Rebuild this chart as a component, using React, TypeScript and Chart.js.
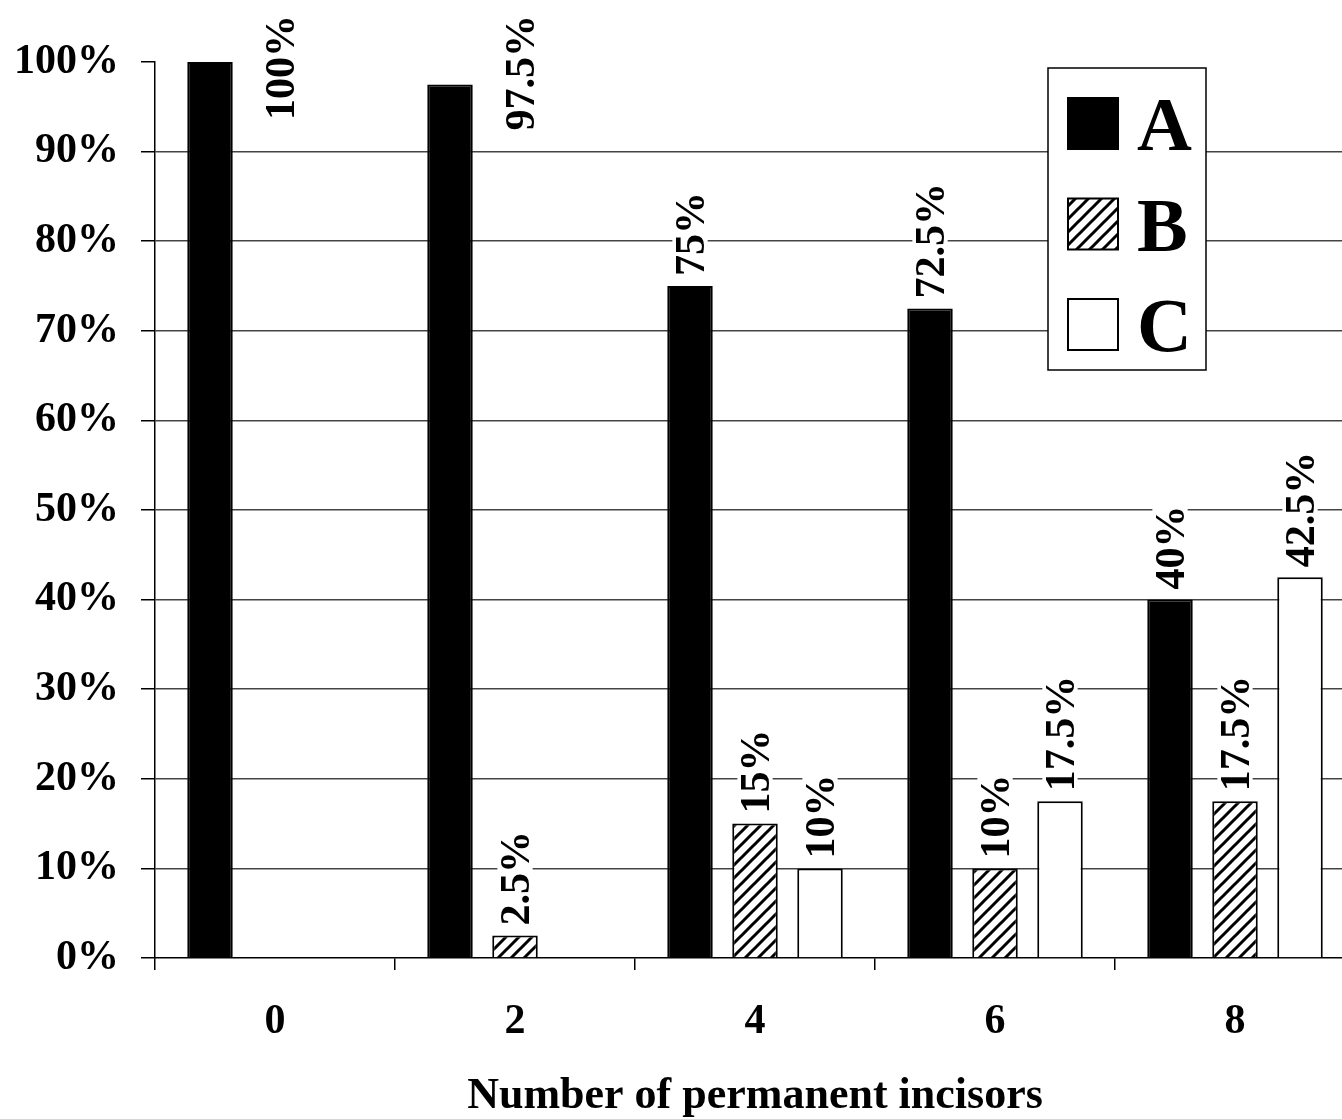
import React, { useEffect, useRef } from 'react';
import { Chart, registerables } from 'chart.js';

Chart.register(...registerables);

const categories = ['0', '2', '4', '6', '8'];
const seriesNames = ['A', 'B', 'C'];
const seriesA = [100, 97.5, 75, 72.5, 40];
const seriesB = [null, 2.5, 15, 10, 17.5];
const seriesC = [null, null, 10, 17.5, 42.5];
const yTickValues = [0, 10, 20, 30, 40, 50, 60, 70, 80, 90, 100];
const xTitle = 'Number of permanent incisors';

const FONT = '"Liberation Serif", "Times New Roman", serif';

function makeHatch(): CanvasPattern | string {
  const s = 13;
  const c = document.createElement('canvas');
  c.width = s;
  c.height = s;
  const g = c.getContext('2d');
  if (!g) return '#888';
  g.fillStyle = '#fff';
  g.fillRect(0, 0, s, s);
  g.strokeStyle = '#000';
  g.lineWidth = 3;
  g.beginPath();
  g.moveTo(-2, s + 2);
  g.lineTo(s + 2, -2);
  g.moveTo(-3, 3);
  g.lineTo(3, -3);
  g.moveTo(s - 3, s + 3);
  g.lineTo(s + 3, s - 3);
  g.stroke();
  return g.createPattern(c, 'repeat') || '#888';
}

const valueLabelPlugin = {
  id: 'valueLabels',
  afterDatasetsDraw(chart: any) {
    const ctx = chart.ctx;
    const size = 42;
    ctx.save();
    ctx.font = `bold ${size}px ${FONT}`;
    ctx.textAlign = 'left';
    ctx.textBaseline = 'alphabetic';
    chart.data.datasets.forEach((ds: any, di: number) => {
      const meta = chart.getDatasetMeta(di);
      meta.data.forEach((bar: any, i: number) => {
        const v = ds.data[i];
        if (v == null) return;
        const text = `${v}%`;
        const w = ctx.measureText(text).width;
        let cx = bar.x;
        let bottom = bar.y - 10;
        if (bottom - w < 12) {
          cx = bar.x + 70;
          bottom = 15 + w;
        }
        ctx.save();
        ctx.translate(cx, bottom);
        ctx.rotate(-Math.PI / 2);
        ctx.fillStyle = '#fff';
        ctx.fillRect(-3, -size * 0.42, w + 6, size * 0.84);
        ctx.fillStyle = '#000';
        ctx.fillText(text, 0, size * 0.34);
        ctx.restore();
      });
    });
    ctx.restore();
  },
};

const legendPlugin = {
  id: 'boxLegend',
  afterDraw(chart: any) {
    const ctx = chart.ctx;
    const left = 1048;
    const top = 68;
    const width = 158;
    const height = 302;
    ctx.save();
    ctx.fillStyle = '#fff';
    ctx.fillRect(left, top, width, height);
    ctx.strokeStyle = '#000';
    ctx.lineWidth = 1.5;
    ctx.strokeRect(left, top, width, height);
    ctx.font = `bold 76px ${FONT}`;
    ctx.textAlign = 'left';
    ctx.textBaseline = 'alphabetic';
    chart.data.datasets.forEach((ds: any, i: number) => {
      const sy = top + 30 + i * 100.5;
      ctx.fillStyle = ds.backgroundColor;
      ctx.fillRect(1068, sy, 50, 51);
      ctx.strokeStyle = '#000';
      ctx.lineWidth = 2;
      ctx.strokeRect(1068, sy, 50, 51);
      ctx.fillStyle = '#000';
      ctx.fillText(seriesNames[i], 1137, sy + 52);
    });
    ctx.restore();
  },
};

export default function App() {
  const ref = useRef<HTMLCanvasElement | null>(null);

  useEffect(() => {
    if (!ref.current) return;
    const hatch = makeHatch();
    const chart = new Chart(ref.current, {
      type: 'bar',
      data: {
        labels: categories,
        datasets: [
          {
            label: seriesNames[0],
            data: seriesA,
            backgroundColor: '#000',
            borderColor: '#000',
            borderWidth: 2,
          },
          {
            label: seriesNames[1],
            data: seriesB as any,
            backgroundColor: hatch as any,
            borderColor: '#000',
            borderWidth: 2,
          },
          {
            label: seriesNames[2],
            data: seriesC as any,
            backgroundColor: '#fff',
            borderColor: '#000',
            borderWidth: 2,
          },
        ],
      },
      options: {
        animation: false,
        responsive: false,
        maintainAspectRatio: false,
        devicePixelRatio: 1,
        layout: { padding: { top: 62, right: 5, left: 0, bottom: 0 } },
        datasets: {
          bar: {
            categoryPercentage: 0.8125,
            barPercentage: 0.7,
            borderSkipped: 'bottom',
          },
        },
        plugins: {
          legend: { display: false },
          tooltip: { enabled: false },
        },
        scales: {
          x: {
            grid: {
              offset: true,
              drawOnChartArea: false,
              drawTicks: true,
              tickLength: 12,
              color: '#000',
              lineWidth: 1.5,
            },
            border: { display: true, color: '#000', width: 1.5 },
            ticks: {
              color: '#000',
              font: { family: FONT, size: 42, weight: 'bold' },
              padding: 27,
              maxRotation: 0,
            },
            title: {
              display: true,
              text: xTitle,
              color: '#000',
              font: { family: FONT, size: 44, weight: 'bold', lineHeight: 1.0 },
              padding: { top: 0, bottom: 0 },
            },
            afterFit(scale: any) {
              scale.height = 161;
            },
          },
          y: {
            min: 0,
            max: 100,
            afterBuildTicks(scale: any) {
              scale.ticks = yTickValues.map((v) => ({ value: v }));
            },
            grid: {
              color: (c: any) => (c.tick && (c.tick.value === 100 || c.tick.value === 0) ? 'rgba(0,0,0,0)' : '#444'),
              tickColor: '#000',
              lineWidth: 1.5,
              tickLength: 14,
            },
            border: { display: true, color: '#000', width: 1.5 },
            ticks: {
              color: '#000',
              font: { family: FONT, size: 42, weight: 'bold' },
              padding: 22,
              callback: (v: any) => `${v}%`,
            },
            afterFit(scale: any) {
              scale.width = 155;
            },
          },
        },
      },
      plugins: [valueLabelPlugin, legendPlugin],
    });
    return () => chart.destroy();
  }, []);

  return (
    <div
      style={{
        position: 'fixed',
        left: 0,
        top: 0,
        width: 1342,
        height: 1119,
        overflow: 'hidden',
        background: '#fff',
      }}
    >
      <canvas ref={ref} width={1360} height={1119} style={{ width: 1360, height: 1119, display: 'block' }} />
    </div>
  );
}
